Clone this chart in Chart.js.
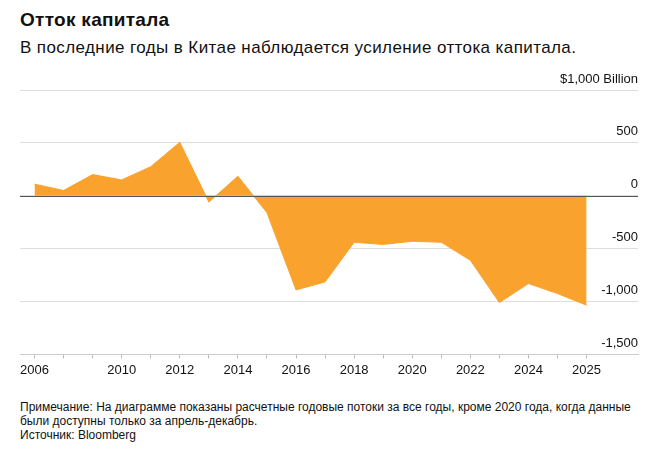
<!DOCTYPE html>
<html>
<head>
<meta charset="utf-8">
<script src="https://cdn.jsdelivr.net/npm/chart.js@4/dist/chart.umd.min.js"></script>
<style>
  html, body { margin: 0; padding: 0; background: #fff; }
  body { width: 665px; height: 458px; position: relative; overflow: hidden; font-family: "Liberation Sans", Arial, sans-serif; color: #111; }
  #title { position: absolute; left: 20px; top: 9px; font-size: 19px; letter-spacing: 0.3px; font-weight: bold; white-space: nowrap; }
  #subtitle { position: absolute; left: 20px; top: 38px; font-size: 17px; letter-spacing: 0.4px; white-space: nowrap; }
  #note { position: absolute; left: 20px; top: 400px; font-size: 12px; line-height: 14px; width: 630px; color: #111; }
  #wrap { position: absolute; left: 0; top: 60px; width: 665px; height: 330px; }
</style>
</head>
<body>
<div id="title">Отток капитала</div>
<div id="subtitle">В последние годы в Китае наблюдается усиление оттока капитала.</div>
<div id="wrap"><canvas id="c"></canvas></div>
<div id="note">Примечание: На диаграмме показаны расчетные годовые потоки за все годы, кроме 2020 года, когда данные были доступны только за апрель-декабрь.<br>Источник: Bloomberg</div>
<script>
// Category tick labels as shown under the axis (one per data point)
const categories = ['2006','','','2010','','2012','','2014','','2016','','2018','','2020','','2022','','2024','','2025'];
// Estimated net capital flow, $ billion
const flows = [110, 50, 200, 150, 275, 505, -60, 185, -160, -890, -815, -440, -460, -430, -440, -610, -1010, -830, -925, -1035];
const yTickValues = [-1500, -1000, -500, 0, 500, 1000];
const yTickLabels = ['-1,500', '-1,000', '-500', '0', '500', '$1,000 Billion'];

const points = flows.map((v, i) => ({ x: i, y: v }));

const zeroLine = {
  id: 'zeroLine',
  afterDatasetsDraw(chart) {
    const { ctx, chartArea, scales } = chart;
    const y = Math.round(scales.y.getPixelForValue(0)) + 0.5;
    ctx.save();
    ctx.strokeStyle = '#555';
    ctx.lineWidth = 1;
    ctx.beginPath();
    ctx.moveTo(chartArea.left, y);
    ctx.lineTo(chartArea.right, y);
    ctx.stroke();
    ctx.restore();
  }
};

new Chart(document.getElementById('c'), {
  type: 'line',
  data: {
    datasets: [{
      data: points,
      fill: 'origin',
      backgroundColor: '#F9A22D',
      borderColor: '#F9A22D',
      borderWidth: 1,
      pointRadius: 0,
      tension: 0
    }]
  },
  options: {
    responsive: true,
    maintainAspectRatio: false,
    animation: false,
    layout: { padding: { left: 20, right: 27, top: 30, bottom: 8 } },
    plugins: { legend: { display: false }, tooltip: { enabled: false } },
    scales: {
      x: {
        type: 'linear',
        min: -0.5,
        max: 20.77,
        afterBuildTicks(scale) {
          scale.ticks = categories.map((_, i) => ({ value: i }));
        },
        ticks: {
          autoSkip: false,
          maxRotation: 0,
          padding: 4,
          color: '#111',
          font: { family: 'Liberation Sans', size: 13 },
          callback: (v) => categories[v] ?? ''
        },
        grid: { drawOnChartArea: false, drawTicks: true, tickLength: 4, color: '#bbb' },
        border: { display: true, color: '#ccc' }
      },
      y: {
        position: 'right',
        min: -1500,
        max: 1000,
        afterBuildTicks(scale) {
          scale.ticks = yTickValues.map(v => ({ value: v }));
        },
        ticks: {
          mirror: true,
          padding: 0,
          labelOffset: -11,
          color: '#111',
          font: { family: 'Liberation Sans', size: 13 },
          callback: (v) => yTickLabels[yTickValues.indexOf(v)]
        },
        grid: { drawTicks: false, color: '#ddd' },
        border: { display: false }
      }
    }
  },
  plugins: [zeroLine]
});
</script>
</body>
</html>
